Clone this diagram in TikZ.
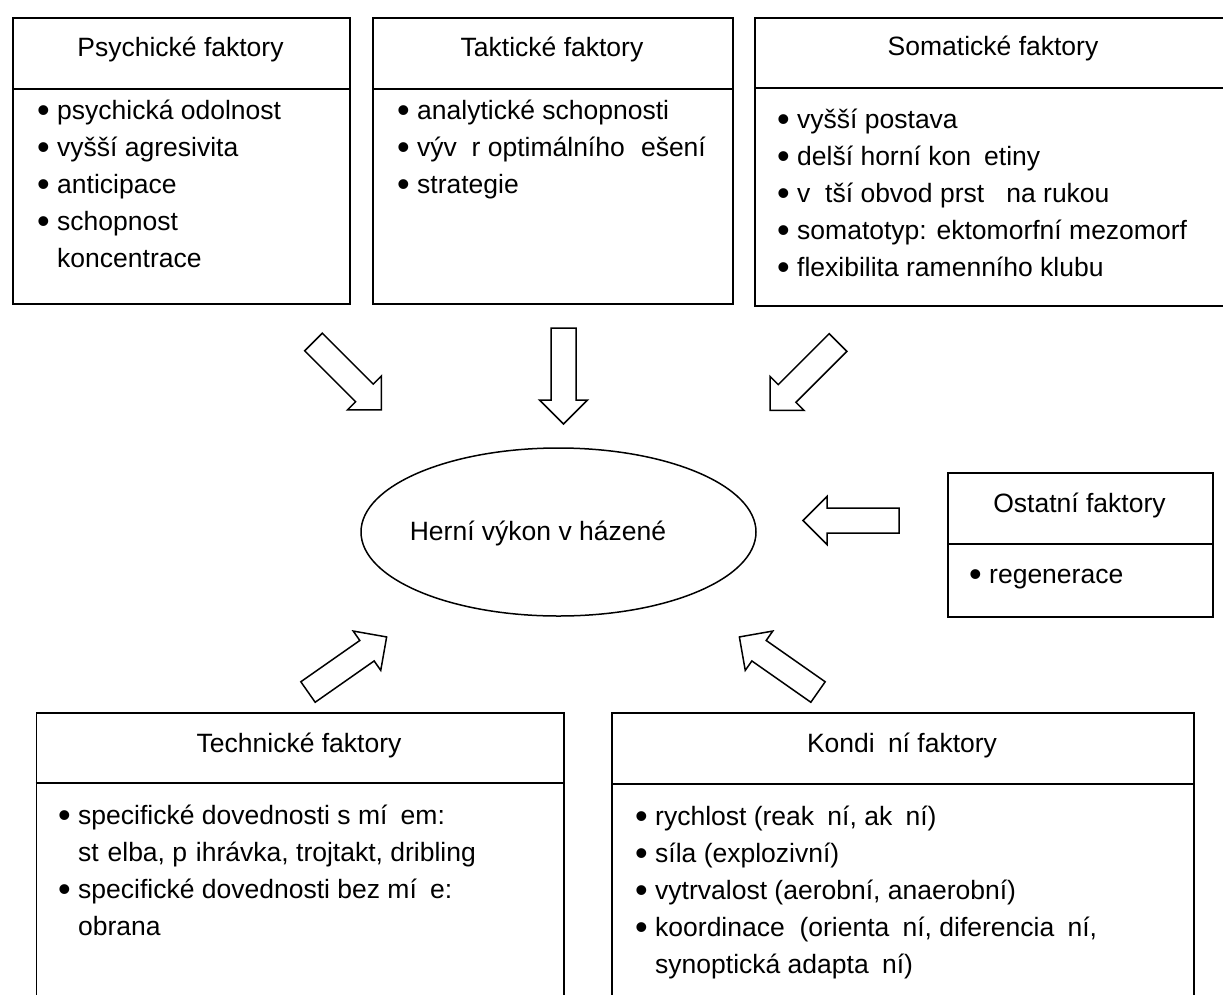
\documentclass[tikz,border=0pt]{standalone}
\usepackage{fontspec}
\setmainfont{Liberation Sans}
\usetikzlibrary{shapes.geometric}
\newcommand\fsz{\fontsize{26.5}{37}\selectfont}
\newcommand\bul{\raisebox{-3pt}{\fontsize{36}{37}\selectfont\textbullet}}
\newcommand\itm[1]{\makebox[20pt][l]{\bul}#1}
\newcommand\cnt[1]{\hspace*{20pt}#1}
\newcommand\lines[1]{\parbox[t]{520pt}{\fsz\raggedright #1}}
\begin{document}
\begin{tikzpicture}[x=1pt,y=-1pt,
  frame/.style={draw, line width=1.6pt, inner sep=0pt, anchor=north west},
  ttl/.style={inner sep=0pt, anchor=base, font=\fsz},
  lst/.style={inner sep=0pt, anchor=base west},
  blk/.style={draw, line width=1.5pt, fill=white, line join=miter},
  blockarrow/.pic={\draw[blk] (0,-12.5)--(72,-12.5)--(72,-24)--(96,0)--(72,24)--(72,12.5)--(0,12.5)--cycle;}
]
\useasboundingbox (0,0) rectangle (1223,994);
\clip (0,0) rectangle (1223,994);

% --- factor boxes: frame, title row divider, title, item list
\node[frame, minimum width=337pt, minimum height=286pt] (psy) at (12,17) {};
\draw[line width=1.6pt] (psy.west |- 0,89) -- (psy.east |- 0,89);
\node[ttl] (psyt) at (180.5,56) {Psychické faktory};
\node[lst] (psyl) at (37,119) {\lines{\itm{psychická odolnost}\\\itm{vyšší agresivita}\\\itm{anticipace}\\\itm{schopnost}\\\cnt{koncentrace}}};

\node[frame, minimum width=360pt, minimum height=286pt] (tak) at (372,17) {};
\draw[line width=1.6pt] (tak.west |- 0,89) -- (tak.east |- 0,89);
\node[ttl] (takt) at (552,56) {Taktické faktory};
\node[lst] (takl) at (397,119) {\lines{\itm{analytické schopnosti}\\\itm{výv\phantom{ě}r optimálního \phantom{ř}ešení}\\\itm{strategie}}};

\node[frame, minimum width=478pt, minimum height=288pt] (som) at (754,17) {};
\draw[line width=1.6pt] (som.west |- 0,88) -- (som.east |- 0,88);
\node[ttl] (somt) at (993,55) {Somatické faktory};
\node[lst] (soml) at (777,128) {\lines{\itm{vyšší postava}\\\itm{delší horní kon\phantom{č}etiny}\\\itm{v\phantom{ě}tší obvod prst\phantom{ů} na rukou}\\\itm{somatotyp: ektomorfní mezomorf}\\\itm{flexibilita ramenního klubu}}};

\node[frame, minimum width=265pt, minimum height=144pt] (ost) at (947,472) {};
\draw[line width=1.6pt] (ost.west |- 0,544) -- (ost.east |- 0,544);
\node[ttl] (ostt) at (1079.5,512) {Ostatní faktory};
\node[lst] (ostl) at (969,583) {\lines{\itm{regenerace}}};

\node[frame, minimum width=527.5pt, minimum height=388pt] (tec) at (35.5,712) {};
\draw[line width=1.6pt] (tec.west |- 0,783) -- (tec.east |- 0,783);
\node[ttl] (tect) at (299,752) {Technické faktory};
\node[lst] (tecl) at (58,824) {\lines{\itm{specifické dovednosti s mí\phantom{č}em:}\\\cnt{st\phantom{ř}elba, p\phantom{ř}ihrávka, trojtakt, dribling}\\\itm{specifické dovednosti bez mí\phantom{č}e:}\\\cnt{obrana}}};

\node[frame, minimum width=582pt, minimum height=388pt] (kon) at (611,712) {};
\draw[line width=1.6pt] (kon.west |- 0,784) -- (kon.east |- 0,784);
\node[ttl] (kont) at (902,752) {Kondi\phantom{č}ní faktory};
\node[lst] (konl) at (635,825) {\lines{\itm{rychlost (reak\phantom{č}ní, ak\phantom{č}ní)}\\\itm{síla (explozivní)}\\\itm{vytrvalost (aerobní, anaerobní)}\\\itm{koordinace\ \ (orienta\phantom{č}ní, diferencia\phantom{č}ní,}\\\cnt{synoptická adapta\phantom{č}ní)}}};

% --- central performance ellipse
\node[draw, ellipse, line width=1.5pt, minimum width=395pt, minimum height=168pt, inner sep=0pt] (perf) at (558.5,532) {};
\node[ttl] (perft) at (538,540) {Herní výkon v házené};

% --- block arrows pointing towards the ellipse
\coordinate (a1) at (313.5,342);
\coordinate (a2) at (563.5,328);
\coordinate (a3) at (838,342.5);
\coordinate (a4) at (899,520.5);
\coordinate (a5) at (308,692);
\coordinate (a6) at (818,692);
\pic[rotate=-45] at (a1) {blockarrow};
\pic[rotate=-90] at (a2) {blockarrow};
\pic[rotate=-135] at (a3) {blockarrow};
\pic[rotate=180] at (a4) {blockarrow};
\pic[rotate=35] at (a5) {blockarrow};
\pic[rotate=145] at (a6) {blockarrow};
\end{tikzpicture}
\end{document}
